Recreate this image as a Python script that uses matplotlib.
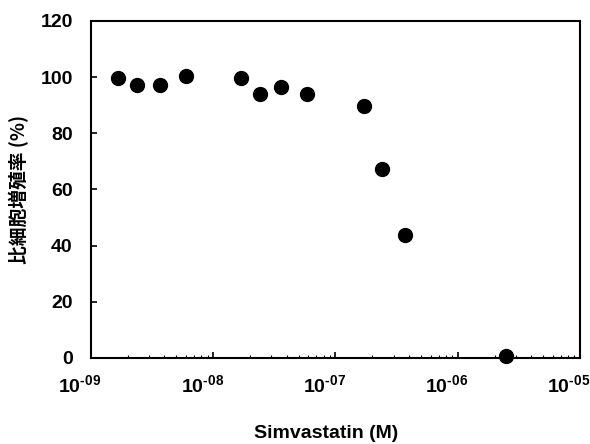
import matplotlib.pyplot as plt
from matplotlib.ticker import FixedLocator, FixedFormatter, LogLocator, NullFormatter
from matplotlib.transforms import ScaledTranslation

plt.rcParams['font.family'] = ['Liberation Sans', 'Noto Sans CJK JP', 'DejaVu Sans']
plt.rcParams['mathtext.fontset'] = 'custom'
plt.rcParams['mathtext.rm'] = 'Liberation Sans:bold'
plt.rcParams['mathtext.bf'] = 'Liberation Sans:bold'
plt.rcParams['mathtext.default'] = 'rm'

# Simvastatin concentration (M) and relative cell proliferation (%)
conc = [1.66e-9, 2.4e-9, 3.7e-9, 6.0e-9, 1.7e-8, 2.4e-8, 3.6e-8, 5.9e-8,
        1.7e-7, 2.4e-7, 3.7e-7, 2.5e-6]
prolif = [99.5, 97.3, 97.3, 100.3, 99.5, 93.9, 96.4, 94.0, 89.8, 67.2, 43.8, 0.7]

xticks = [1e-9, 1e-8, 1e-7, 1e-6, 1e-5]
xtick_labels = [r'$10^{\text{-09}}$', r'$10^{\text{-08}}$', r'$10^{\text{-07}}$',
                r'$10^{\text{-06}}$', r'$10^{\text{-05}}$']
yticks = [0, 20, 40, 60, 80, 100, 120]

fig = plt.figure(figsize=(5.9, 4.44), dpi=100)
ax = fig.add_axes([0.154, 0.194, 0.829, 0.759])

ax.plot(conc, prolif, 'o', color='black', markersize=10, clip_on=False, zorder=3)

ax.set_xscale('log')
ax.set_xlim(1e-9, 1e-5)
ax.set_ylim(0, 120)
ax.xaxis.set_major_locator(FixedLocator(xticks))
ax.xaxis.set_major_formatter(FixedFormatter(xtick_labels))
ax.xaxis.set_minor_locator(LogLocator(base=10, subs=range(2, 10)))
ax.xaxis.set_minor_formatter(NullFormatter())
ax.set_yticks(yticks)

for s in ax.spines.values():
    s.set_linewidth(1.5)
ax.tick_params(axis='both', which='major', direction='in', length=4, width=1.2,
               labelsize=14)
ax.tick_params(axis='x', which='major', pad=12)
ax.tick_params(axis='y', which='major', pad=13)
ax.tick_params(axis='x', which='minor', direction='in', length=2, width=0.8)
for lab in ax.get_yticklabels():
    lab.set_fontweight('bold')
shift = ScaledTranslation(-11 / 100, 0, fig.dpi_scale_trans)
for lab in ax.get_xticklabels():
    lab.set_transform(lab.get_transform() + shift)

ax.set_xlabel('Simvastatin (M)', fontsize=14, fontweight='bold', labelpad=20)
ax.xaxis.set_label_coords(0.48, -0.2)
ax.set_ylabel('比細胞増殖率 (%)', fontsize=13.5, fontweight='bold', labelpad=8,
              family=['Noto Sans CJK JP', 'DejaVu Sans'])

fig.savefig('out.png', dpi=100)
